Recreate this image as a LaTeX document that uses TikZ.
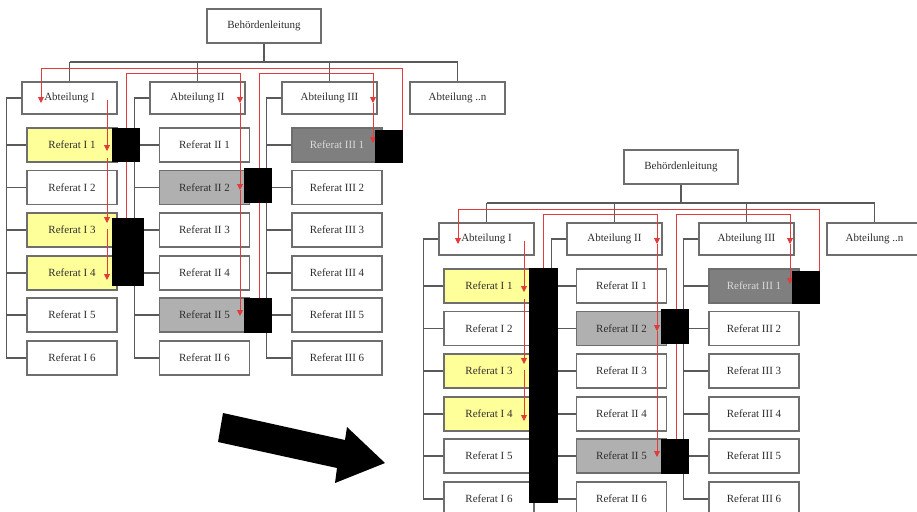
\documentclass[tikz,border=0pt]{standalone}
\usepackage{fontspec}
\setmainfont{Liberation Serif}
\usetikzlibrary{arrows.meta,calc}
\definecolor{boxgray}{HTML}{6E6E6E}
\definecolor{conngray}{HTML}{5A5A5A}
\definecolor{refyellow}{HTML}{FFFF99}
\definecolor{refgray}{HTML}{B0B0B0}
\definecolor{refdark}{HTML}{7F7F7F}
\definecolor{redline}{HTML}{E03C3C}
\definecolor{txtgray}{HTML}{2E2E2E}

\newcommand\orgchart[1]{%
  \node[topbox] (#1top) at (264,26) {Behördenleitung};
  \coordinate (#1bus) at (0,62);
  \coordinate (#1ya) at (0,68);
  \coordinate (#1yb) at (0,73);
  \foreach \n/\x/\t in {1/69.5/Abteilung I, 2/197.5/Abteilung II, 3/329.5/Abteilung III, 4/457.5/Abteilung ..n}
    \node[abox] (#1a\n) at (\x,98) {\t};
  \foreach \c/\x/\r in {1/72/I, 2/204.5/II, 3/337/III}
    \foreach \k/\y in {1/145,2/187.5,3/230,4/273,5/315,6/358}
      \node[rbox, r\c\k/.try] (#1r\c\k) at (\x,\y) {Referat \r\ \k};
  % tree connectors
  \draw[conn] (#1top.south) -- (#1top.south |- #1bus);
  \draw[conn] (#1a1.north |- #1bus) -- (#1a4.north |- #1bus);
  \foreach \n in {1,...,4}
    \draw[conn] (#1a\n.north |- #1bus) -- (#1a\n.north);
  \foreach \c in {1,2,3}{
    \draw[conn] (#1a\c.west) -- ++(-15,0) coordinate (#1br\c) |- (#1r\c6.west);
    \foreach \k in {1,...,5}
      \draw[conn] (#1br\c |- #1r\c\k.west) -- (#1r\c\k.west);
  }
  % red flow lines
  \coordinate (#1p0) at (402,150);
  \coordinate (#1p1) at (41,103);
  \draw[redarr] (#1p0) -- (#1p0 |- #1ya) -- (#1p1 |- #1ya) -- (#1p1);
  \coordinate (#1q0) at (126,230);
  \coordinate (#1q1) at (240,103);
  \coordinate (#1q2) at (240,190);
  \coordinate (#1q3) at (240,316);
  \draw[redarr] (#1q0) -- (#1q0 |- #1yb) -- (#1q1 |- #1yb) -- (#1q1);
  \draw[redarr] (#1q1) -- (#1q2);
  \draw[redarr] (#1q2) -- (#1q3);
  \coordinate (#1s0) at (259,310);
  \coordinate (#1s1) at (373,103);
  \coordinate (#1s2) at (373,143);
  \draw[redarr] (#1s0) -- (#1s0 |- #1yb) -- (#1s1 |- #1yb) -- (#1s1);
  \draw[redarr] (#1s1) -- (#1s2);
  \coordinate (#1t0) at (107,100);
  \coordinate (#1t1) at (107,151);
  \coordinate (#1t2) at (107,158);
  \coordinate (#1t3) at (107,223);
  \coordinate (#1t4) at (107,229);
  \coordinate (#1t5) at (107,280);
  \draw[redarr] (#1t0) -- (#1t1);
  \draw[redarr] (#1t2) -- (#1t3);
  \draw[redarr] (#1t4) -- (#1t5);
}

\begin{document}
\begin{tikzpicture}[x=1pt,y=-1pt,
  txt/.style={font=\fontsize{11}{13}\selectfont, text=txtgray},
  base/.style={draw=boxgray, line width=1.3pt, fill=white, inner sep=0pt, txt},
  topbox/.style={base, minimum width=114pt, minimum height=34pt},
  abox/.style={base, minimum width=95pt, minimum height=32pt},
  rbox/.style={base, minimum width=90pt, minimum height=34pt},
  r11/.style={fill=refyellow},
  r13/.style={fill=refyellow},
  r14/.style={fill=refyellow},
  r22/.style={fill=refgray},
  r25/.style={fill=refgray},
  r31/.style={fill=refdark, text=white!85!black},
  conn/.style={draw=conngray, line width=1.2pt},
  redarr/.style={draw=redline, line width=0.9pt, -{Triangle[width=6pt,length=6pt]}},
  blk/.style={fill=black}]
\useasboundingbox (0,0) rectangle (917,511);
\clip (0,0) rectangle (917,511);
\fill[white] (0,0) rectangle (917,511);

% left chart
\orgchart{L}
\fill[blk] (112,128) rectangle (140,162);
\fill[blk] (112,218) rectangle (144,286);
\fill[blk] (375,130) rectangle (403,163);
\fill[blk] (244,168) rectangle (272,203);
\fill[blk] (244,298) rectangle (272,333);

% right chart
\begin{scope}[shift={(417,141)}]
\orgchart{R}
\fill[blk] (112,127) rectangle (141,362);
\fill[blk] (375,130) rectangle (403,163);
\fill[blk] (244,168) rectangle (272,203);
\fill[blk] (244,298) rectangle (272,333);
\end{scope}

% big arrow
\fill[black] (223,413) -- (345,440) -- (347,427) -- (385,463) -- (335,483) -- (337,468) -- (218,442) -- cycle;
\end{tikzpicture}
\end{document}
